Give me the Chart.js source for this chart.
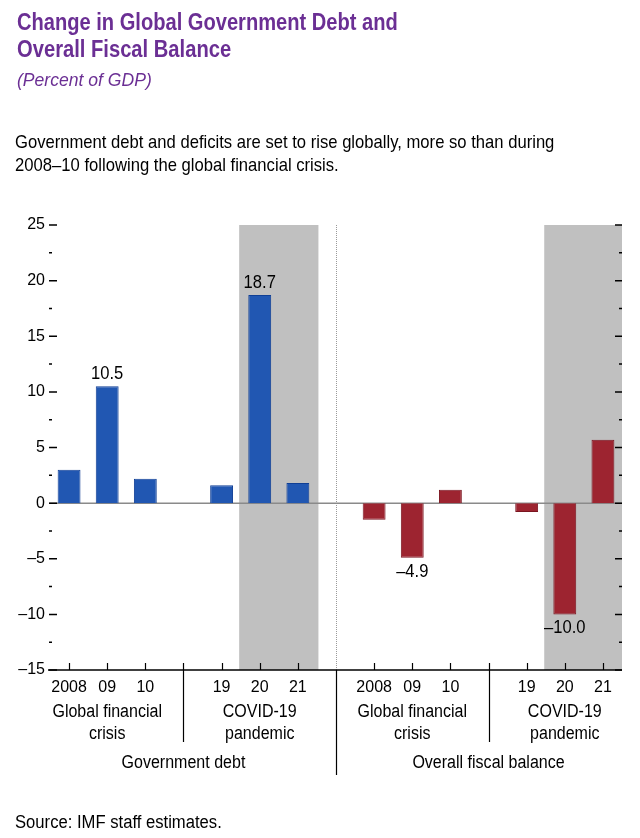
<!DOCTYPE html>
<html>
<head>
<meta charset="utf-8">
<script src="https://cdn.jsdelivr.net/npm/chart.js@4/dist/chart.umd.min.js"></script>
<style>
    html, body { margin: 0; padding: 0; background: #fff; }
    body { width: 640px; height: 838px; position: relative; overflow: hidden;
           font-family: "Liberation Sans", Arial, sans-serif; }
    #chart { position: absolute; left: 0; top: 0; }
    .txt { position: absolute; white-space: nowrap; transform-origin: 0 0; }
    .title { color: #6b2f94; font-weight: bold; font-size: 23px; line-height: 23px; }
    .sub { color: #6b2f94; font-style: italic; font-size: 19px; line-height: 19px; }
    .desc { color: #000; font-size: 19px; line-height: 19px; }
</style>
</head>
<body>
<canvas id="chart" width="640" height="838"></canvas>

<div class="txt title" style="left:17px; top:11px" data-w="381">Change in Global Government Debt and</div>
<div class="txt title" style="left:17px; top:38px" data-w="214">Overall Fiscal Balance</div>
<div class="txt sub" style="left:17px; top:70px" data-w="135">(Percent of GDP)</div>
<div class="txt desc" style="left:15px; top:132px" data-w="539">Government debt and deficits are set to rise globally, more so than during</div>
<div class="txt desc" style="left:15px; top:155px" data-w="324">2008–10 following the global financial crisis.</div>
<div class="txt desc" style="left:15px; top:813px; font-size:18px; line-height:18px" data-w="207">Source: IMF staff estimates.</div>

<script>
    // data
    const years = ['2008', '09', '10', '19', '20', '21'];
    const debt = [3.0, 10.5, 2.2, 1.6, 18.7, 1.8];
    const balance = [-1.5, -4.9, 1.2, -0.8, -10.0, 5.7];
    const periods = [['Global financial', 'crisis'], ['COVID-19', 'pandemic']];
    const panels = ['Government debt', 'Overall fiscal balance'];
    const labelledYears = ['09', '20'];
    const yTicks = { min: -15, max: 25, step: 5 };

    const FONT = '"Liberation Sans", Arial, sans-serif';

    // 15 slots: 3 years, gap, 3 years, divider, 3 years, gap, 3 years
    const slotLabels = [...years.slice(0, 3), '', ...years.slice(3), '',
                        ...years.slice(0, 3), '', ...years.slice(3)];
    const debtSlots = [...debt.slice(0, 3), null, ...debt.slice(3), null,
                       null, null, null, null, null, null, null];
    const balanceSlots = [null, null, null, null, null, null, null, null,
                          ...balance.slice(0, 3), null, ...balance.slice(3)];
    const shaded = [[5, 6], [13, 14]];
    const separators = [3, 11];
    const divider = 7;
    const periodCenters = [1, 5, 9, 13];
    const panelCenters = [3, 11];

    function fmt(v) {
        return v.toFixed(1).replace('-', '–');
    }

    // narrow text: the reference uses a condensed face
    function narrowText(ctx, text, x, y, sx) {
        ctx.save();
        ctx.translate(x, y);
        ctx.scale(sx, 1);
        ctx.fillText(text, 0, 0);
        ctx.restore();
    }

    // fit each header/footer line to the width it has in the picture
    document.querySelectorAll('.txt').forEach(el => {
        const w = parseFloat(el.dataset.w);
        el.style.transform = `scaleX(${w / el.offsetWidth})`;
    });

    const decor = {
        id: 'decor',
        beforeDatasetsDraw(chart) {
            const { ctx, chartArea: a, scales: { x, y } } = chart;
            const half = (x.getPixelForValue(1) - x.getPixelForValue(0)) / 2;
            ctx.save();
            // gray shading for the forecast years
            ctx.fillStyle = '#c0c0c0';
            shaded.forEach(([s0, s1]) => {
                const x0 = x.getPixelForValue(s0) - half - 1.5;
                const x1 = Math.min(a.right, x.getPixelForValue(s1) + half + 1.5);
                ctx.fillRect(x0, y.getPixelForValue(yTicks.max), x1 - x0, y.getPixelForValue(yTicks.min) - y.getPixelForValue(yTicks.max));
            });
            // dotted divider between panels
            const xd = Math.round(x.getPixelForValue(divider)) + 0.5;
            ctx.strokeStyle = '#9a9a9a';
            ctx.lineWidth = 1;
            ctx.setLineDash([1, 1]);
            ctx.beginPath();
            ctx.moveTo(xd, a.top);
            ctx.lineTo(xd, a.bottom);
            ctx.stroke();
            ctx.setLineDash([]);
            // zero line
            const y0 = y.getPixelForValue(0);
            ctx.strokeStyle = '#8a8a8a';
            ctx.lineWidth = 1.5;
            ctx.beginPath();
            ctx.moveTo(a.left - 1, y0);
            ctx.lineTo(a.right, y0);
            ctx.stroke();
            ctx.restore();
        },
        afterDatasetsDraw(chart) {
            const { ctx, chartArea: a, scales: { x, y } } = chart;
            ctx.save();
            ctx.fillStyle = '#000';
            ctx.strokeStyle = '#000';
            ctx.font = '18px ' + FONT;
            ctx.textAlign = 'center';

            // value labels on selected bars
            chart.data.datasets.forEach((ds, di) => {
                const meta = chart.getDatasetMeta(di);
                ds.data.forEach((v, i) => {
                    if (v === null || !labelledYears.includes(slotLabels[i])) return;
                    const bar = meta.data[i];
                    if (v >= 0) {
                        ctx.textBaseline = 'alphabetic';
                        narrowText(ctx, fmt(v), bar.x, bar.y - 7, 0.92);
                    } else {
                        ctx.textBaseline = 'top';
                        narrowText(ctx, fmt(v), bar.x, bar.y + 5, 0.92);
                    }
                });
            });

            // y tick marks, left (inside) and right (inside)
            ctx.lineWidth = 1.5;
            for (let v = yTicks.min; v <= yTicks.max; v += yTicks.step / 2) {
                const yy = y.getPixelForValue(v);
                const major = v % yTicks.step === 0;
                ctx.beginPath();
                ctx.moveTo(a.left - 1, yy);
                ctx.lineTo(a.left + (major ? 7 : 2), yy);
                ctx.moveTo(a.right, yy);
                ctx.lineTo(a.right - (major ? 7 : 3), yy);
                ctx.stroke();
            }

            // bottom axis
            ctx.lineWidth = 1.5;
            ctx.beginPath();
            ctx.moveTo(a.left - 2, a.bottom);
            ctx.lineTo(a.right, a.bottom);
            ctx.stroke();

            ctx.lineWidth = 1.2;
            slotLabels.forEach((lab, i) => {
                if (!lab && !separators.includes(i)) return;
                const xx = Math.round(x.getPixelForValue(i)) + 0.5;
                ctx.beginPath();
                ctx.moveTo(xx, a.bottom);
                ctx.lineTo(xx, a.bottom - 7);
                ctx.stroke();
            });
            separators.forEach(i => {
                const xx = Math.round(x.getPixelForValue(i)) + 0.5;
                ctx.beginPath();
                ctx.moveTo(xx, a.bottom);
                ctx.lineTo(xx, a.bottom + 72);
                ctx.stroke();
            });
            const xd = Math.round(x.getPixelForValue(divider)) + 0.5;
            ctx.beginPath();
            ctx.moveTo(xd, a.bottom);
            ctx.lineTo(xd, a.bottom + 105);
            ctx.stroke();

            // period and panel labels
            ctx.textBaseline = 'middle';
            periodCenters.forEach((c, k) => {
                const lines = periods[k % 2];
                narrowText(ctx, lines[0], x.getPixelForValue(c), a.bottom + 42, 0.89);
                narrowText(ctx, lines[1], x.getPixelForValue(c), a.bottom + 64, 0.89);
            });
            panelCenters.forEach((c, k) => {
                narrowText(ctx, panels[k], x.getPixelForValue(c), a.bottom + 93, 0.89);
            });
            ctx.restore();
        }
    };

    const ctx = document.getElementById('chart').getContext('2d');
    new Chart(ctx, {
        type: 'bar',
        data: {
            labels: slotLabels,
            datasets: [{
                label: 'Government debt',
                data: debtSlots,
                backgroundColor: '#2157b2',
                borderColor: '#103f95',
                borderWidth: 1,
                grouped: false,
                barPercentage: 0.6,
                categoryPercentage: 1
            }, {
                label: 'Overall fiscal balance',
                data: balanceSlots,
                backgroundColor: '#9d2430',
                borderColor: '#7a1520',
                borderWidth: 1,
                grouped: false,
                barPercentage: 0.6,
                categoryPercentage: 1
            }]
        },
        options: {
            responsive: false,
            animation: false,
            layout: { padding: { top: 225, right: 18, bottom: 128, left: 0 } },
            plugins: { legend: { display: false }, tooltip: { enabled: false } },
            scales: {
                x: {
                    grid: { display: false, drawTicks: false },
                    border: { display: false },
                    ticks: { autoSkip: false, maxRotation: 0, padding: 8, color: '#000', font: { family: FONT, size: 16 } },
                    afterFit(s) { s.height = 40; }
                },
                y: {
                    min: yTicks.min,
                    max: yTicks.max,
                    grid: { display: false, drawTicks: false },
                    border: { display: false },
                    ticks: { stepSize: yTicks.step, padding: 5, color: '#000', font: { family: FONT, size: 16 },
                             callback: v => String(v).replace('-', '–') },
                    afterFit(s) { s.width = 50; }
                }
            }
        },
        plugins: [decor]
    });
</script>
</body>
</html>
